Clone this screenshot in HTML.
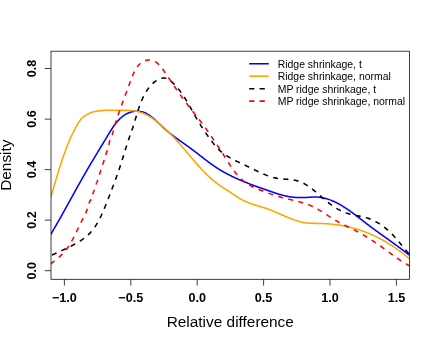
<!DOCTYPE html>
<html><head><meta charset="utf-8"><title>Density plot</title>
<style>html,body{margin:0;padding:0;background:#fff}svg{display:block;will-change:transform}</style>
</head><body>
<svg width="436" height="343" viewBox="0 0 436 343">
<defs><clipPath id="c"><rect x="51.0" y="51.2" width="358.5" height="228.10000000000002"/></clipPath></defs>
<g clip-path="url(#c)" fill="none" stroke-width="1.55" stroke-linejoin="round">
<path d="M43.39,246.13 L43.72,245.62 L44.06,245.11 L44.39,244.59 L44.73,244.07 L45.07,243.54 L45.41,243.01 L45.75,242.48 L46.09,241.94 L46.43,241.39 L46.78,240.85 L47.12,240.29 L47.47,239.74 L47.82,239.18 L48.17,238.61 L48.52,238.04 L48.87,237.47 L49.22,236.90 L49.57,236.32 L49.92,235.73 L50.28,235.15 L50.63,234.56 L50.99,233.96 L51.35,233.36 L51.70,232.76 L52.06,232.16 L52.42,231.55 L52.78,230.94 L53.14,230.33 L53.50,229.71 L53.87,229.09 L54.23,228.47 L54.59,227.84 L54.96,227.21 L55.32,226.58 L55.69,225.95 L56.06,225.31 L56.43,224.67 L56.79,224.03 L57.16,223.39 L57.53,222.74 L57.90,222.09 L58.27,221.44 L58.64,220.79 L59.01,220.14 L59.39,219.48 L59.76,218.82 L60.13,218.16 L60.51,217.50 L60.88,216.83 L61.25,216.17 L61.63,215.50 L62.00,214.83 L62.38,214.16 L62.75,213.49 L63.13,212.82 L63.51,212.14 L63.88,211.47 L64.26,210.79 L64.64,210.11 L65.02,209.43 L65.40,208.75 L65.77,208.07 L66.15,207.39 L66.53,206.70 L66.91,206.02 L67.29,205.34 L67.67,204.65 L68.05,203.96 L68.43,203.28 L68.81,202.59 L69.19,201.91 L69.57,201.22 L69.95,200.53 L70.33,199.84 L70.71,199.16 L71.09,198.47 L71.47,197.78 L71.85,197.09 L72.23,196.41 L72.61,195.72 L72.98,195.03 L73.36,194.34 L73.74,193.66 L74.12,192.97 L74.50,192.29 L74.88,191.60 L75.26,190.92 L75.64,190.24 L76.02,189.55 L76.40,188.87 L76.77,188.19 L77.15,187.51 L77.53,186.83 L77.91,186.16 L78.28,185.48 L78.66,184.80 L79.04,184.13 L79.41,183.46 L79.79,182.79 L80.16,182.12 L80.54,181.45 L80.91,180.78 L81.29,180.12 L81.66,179.46 L82.03,178.79 L82.41,178.14 L82.78,177.48 L83.15,176.82 L83.52,176.17 L83.89,175.52 L84.26,174.87 L84.63,174.22 L85.00,173.58 L85.37,172.94 L85.74,172.30 L86.10,171.66 L86.47,171.02 L86.84,170.39 L87.20,169.76 L87.56,169.14 L87.93,168.51 L88.29,167.89 L88.65,167.27 L89.02,166.66 L89.38,166.04 L89.74,165.43 L90.10,164.82 L90.46,164.21 L90.82,163.60 L91.18,162.99 L91.54,162.39 L91.90,161.78 L92.26,161.18 L92.62,160.58 L92.98,159.98 L93.34,159.38 L93.70,158.78 L94.06,158.18 L94.42,157.58 L94.78,156.98 L95.14,156.38 L95.50,155.78 L95.87,155.18 L96.23,154.58 L96.59,153.99 L96.95,153.39 L97.32,152.78 L97.68,152.18 L98.05,151.58 L98.41,150.98 L98.78,150.37 L99.15,149.77 L99.52,149.16 L99.89,148.55 L100.26,147.94 L100.63,147.33 L101.00,146.72 L101.38,146.10 L101.75,145.48 L102.13,144.86 L102.50,144.24 L102.88,143.62 L103.26,142.99 L103.65,142.36 L104.03,141.72 L104.41,141.09 L104.80,140.45 L105.19,139.81 L105.58,139.16 L105.97,138.51 L106.36,137.86 L106.75,137.20 L107.15,136.54 L107.55,135.88 L107.95,135.21 L108.35,134.54 L108.76,133.87 L109.17,133.20 L109.58,132.53 L109.99,131.86 L110.41,131.18 L110.84,130.51 L111.26,129.84 L111.69,129.18 L112.13,128.51 L112.57,127.85 L113.01,127.20 L113.46,126.55 L113.92,125.90 L114.38,125.26 L114.85,124.63 L115.32,124.00 L115.80,123.39 L116.28,122.78 L116.77,122.18 L117.27,121.59 L117.78,121.01 L118.29,120.44 L118.82,119.88 L119.35,119.33 L119.88,118.80 L120.43,118.28 L120.98,117.77 L121.55,117.28 L122.12,116.80 L122.70,116.34 L123.29,115.90 L123.89,115.47 L124.50,115.06 L125.12,114.67 L125.76,114.29 L126.40,113.94 L127.05,113.61 L127.71,113.29 L128.38,113.00 L129.07,112.73 L129.76,112.48 L130.45,112.25 L131.16,112.04 L131.86,111.85 L132.58,111.69 L133.30,111.55 L134.02,111.44 L134.75,111.34 L135.48,111.28 L136.21,111.23 L136.94,111.22 L137.67,111.22 L138.41,111.26 L139.14,111.31 L139.87,111.40 L140.60,111.51 L141.32,111.65 L142.05,111.82 L142.76,112.01 L143.48,112.23 L144.18,112.48 L144.88,112.76 L145.58,113.07 L146.26,113.40 L146.94,113.76 L147.62,114.14 L148.28,114.55 L148.95,114.97 L149.60,115.41 L150.25,115.87 L150.89,116.34 L151.52,116.83 L152.15,117.32 L152.78,117.83 L153.39,118.34 L154.01,118.87 L154.61,119.40 L155.22,119.93 L155.81,120.47 L156.41,121.02 L157.00,121.57 L157.59,122.12 L158.17,122.68 L158.76,123.24 L159.34,123.79 L159.91,124.35 L160.49,124.91 L161.07,125.46 L161.64,126.01 L162.21,126.56 L162.78,127.10 L163.36,127.63 L163.93,128.16 L164.50,128.68 L165.08,129.20 L165.65,129.71 L166.23,130.21 L166.80,130.70 L167.38,131.19 L167.95,131.68 L168.53,132.15 L169.11,132.63 L169.68,133.09 L170.26,133.55 L170.84,134.01 L171.42,134.46 L172.00,134.91 L172.58,135.36 L173.16,135.80 L173.74,136.24 L174.32,136.67 L174.90,137.10 L175.48,137.53 L176.07,137.96 L176.65,138.38 L177.23,138.80 L177.82,139.22 L178.40,139.64 L178.98,140.05 L179.57,140.47 L180.15,140.88 L180.74,141.29 L181.33,141.71 L181.91,142.12 L182.50,142.53 L183.09,142.95 L183.68,143.36 L184.27,143.77 L184.86,144.19 L185.45,144.60 L186.04,145.02 L186.63,145.44 L187.22,145.86 L187.81,146.28 L188.40,146.71 L188.99,147.13 L189.59,147.56 L190.18,148.00 L190.77,148.43 L191.37,148.87 L191.96,149.32 L192.56,149.76 L193.15,150.21 L193.75,150.67 L194.35,151.12 L194.94,151.58 L195.54,152.04 L196.14,152.50 L196.74,152.96 L197.34,153.43 L197.94,153.90 L198.54,154.36 L199.14,154.83 L199.75,155.30 L200.35,155.77 L200.95,156.24 L201.56,156.71 L202.17,157.19 L202.77,157.66 L203.38,158.13 L203.99,158.60 L204.60,159.07 L205.21,159.53 L205.82,160.00 L206.43,160.47 L207.05,160.93 L207.66,161.39 L208.28,161.85 L208.89,162.31 L209.51,162.77 L210.13,163.22 L210.75,163.67 L211.37,164.12 L211.99,164.56 L212.62,165.00 L213.24,165.44 L213.87,165.87 L214.50,166.30 L215.13,166.73 L215.76,167.15 L216.39,167.57 L217.02,167.98 L217.66,168.39 L218.29,168.79 L218.93,169.19 L219.57,169.58 L220.21,169.97 L220.85,170.36 L221.49,170.74 L222.13,171.11 L222.78,171.49 L223.42,171.86 L224.07,172.22 L224.72,172.58 L225.37,172.94 L226.02,173.30 L226.68,173.65 L227.33,173.99 L227.99,174.34 L228.64,174.68 L229.30,175.01 L229.96,175.35 L230.62,175.68 L231.28,176.00 L231.94,176.33 L232.61,176.65 L233.27,176.97 L233.94,177.28 L234.61,177.59 L235.28,177.90 L235.95,178.21 L236.62,178.52 L237.29,178.82 L237.96,179.12 L238.64,179.41 L239.32,179.71 L239.99,180.00 L240.67,180.29 L241.35,180.58 L242.03,180.86 L242.71,181.15 L243.40,181.43 L244.08,181.71 L244.76,181.99 L245.45,182.26 L246.14,182.54 L246.83,182.81 L247.52,183.08 L248.21,183.35 L248.90,183.62 L249.59,183.89 L250.29,184.15 L250.98,184.42 L251.68,184.68 L252.37,184.94 L253.07,185.21 L253.77,185.47 L254.47,185.73 L255.17,185.99 L255.88,186.24 L256.58,186.50 L257.28,186.76 L257.99,187.01 L258.70,187.27 L259.40,187.52 L260.11,187.78 L260.82,188.03 L261.53,188.29 L262.24,188.54 L262.96,188.80 L263.67,189.05 L264.38,189.30 L265.10,189.56 L265.81,189.81 L266.53,190.07 L267.25,190.32 L267.97,190.58 L268.69,190.83 L269.41,191.09 L270.13,191.34 L270.85,191.59 L271.58,191.84 L272.30,192.09 L273.03,192.33 L273.75,192.57 L274.48,192.81 L275.21,193.05 L275.93,193.29 L276.66,193.52 L277.39,193.74 L278.12,193.97 L278.85,194.19 L279.58,194.40 L280.32,194.61 L281.05,194.81 L281.78,195.01 L282.52,195.21 L283.25,195.40 L283.99,195.58 L284.72,195.75 L285.46,195.92 L286.20,196.08 L286.93,196.24 L287.67,196.38 L288.41,196.52 L289.15,196.65 L289.89,196.77 L290.63,196.89 L291.37,196.99 L292.11,197.09 L292.85,197.18 L293.60,197.25 L294.34,197.32 L295.08,197.39 L295.82,197.44 L296.57,197.49 L297.31,197.52 L298.06,197.56 L298.81,197.58 L299.55,197.59 L300.30,197.60 L301.05,197.61 L301.80,197.60 L302.55,197.59 L303.31,197.57 L304.06,197.55 L304.82,197.52 L305.57,197.48 L306.33,197.44 L307.09,197.40 L307.84,197.35 L308.60,197.30 L309.36,197.24 L310.12,197.19 L310.88,197.15 L311.64,197.10 L312.40,197.06 L313.16,197.03 L313.91,197.01 L314.67,197.00 L315.42,197.00 L316.17,197.02 L316.92,197.05 L317.67,197.10 L318.41,197.16 L319.15,197.23 L319.89,197.32 L320.63,197.42 L321.36,197.54 L322.09,197.66 L322.82,197.81 L323.55,197.96 L324.27,198.13 L324.99,198.30 L325.71,198.49 L326.43,198.70 L327.14,198.91 L327.85,199.13 L328.56,199.36 L329.26,199.61 L329.96,199.86 L330.66,200.13 L331.36,200.40 L332.05,200.68 L332.74,200.97 L333.42,201.27 L334.11,201.58 L334.79,201.89 L335.46,202.22 L336.14,202.55 L336.81,202.88 L337.48,203.23 L338.14,203.58 L338.80,203.93 L339.46,204.30 L340.11,204.67 L340.76,205.04 L341.41,205.42 L342.05,205.80 L342.69,206.19 L343.33,206.58 L343.97,206.98 L344.60,207.38 L345.22,207.78 L345.85,208.19 L346.47,208.60 L347.09,209.02 L347.71,209.44 L348.33,209.86 L348.94,210.29 L349.55,210.72 L350.16,211.15 L350.77,211.59 L351.37,212.03 L351.98,212.47 L352.58,212.91 L353.18,213.35 L353.78,213.80 L354.38,214.25 L354.97,214.70 L355.57,215.15 L356.17,215.61 L356.76,216.06 L357.35,216.52 L357.95,216.97 L358.54,217.43 L359.13,217.89 L359.72,218.35 L360.31,218.81 L360.90,219.27 L361.50,219.73 L362.09,220.19 L362.68,220.65 L363.27,221.11 L363.86,221.57 L364.46,222.02 L365.05,222.48 L365.64,222.94 L366.24,223.40 L366.84,223.85 L367.43,224.30 L368.03,224.76 L368.63,225.21 L369.23,225.66 L369.83,226.11 L370.43,226.56 L371.03,227.01 L371.64,227.45 L372.24,227.90 L372.84,228.35 L373.45,228.79 L374.05,229.23 L374.66,229.68 L375.26,230.12 L375.87,230.56 L376.48,231.01 L377.09,231.45 L377.69,231.89 L378.30,232.33 L378.91,232.77 L379.52,233.21 L380.13,233.65 L380.74,234.09 L381.35,234.52 L381.96,234.96 L382.57,235.40 L383.18,235.84 L383.79,236.28 L384.40,236.71 L385.01,237.15 L385.62,237.59 L386.23,238.03 L386.84,238.46 L387.45,238.90 L388.06,239.34 L388.67,239.78 L389.28,240.22 L389.89,240.65 L390.50,241.09 L391.11,241.53 L391.72,241.97 L392.33,242.41 L392.94,242.85 L393.54,243.29 L394.15,243.73 L394.76,244.17 L395.37,244.61 L395.97,245.05 L396.58,245.50 L397.18,245.94 L397.79,246.38 L398.39,246.83 L399.00,247.27 L399.60,247.72 L400.20,248.16 L400.80,248.61 L401.40,249.06 L402.00,249.51 L402.60,249.96 L403.20,250.41 L403.80,250.86 L404.40,251.31 L404.99,251.76 L405.59,252.22 L406.18,252.67 L406.78,253.13 L407.37,253.59 L407.96,254.05 L408.55,254.51 L409.14,254.97 L409.73,255.43 L410.31,255.90 L410.90,256.36 L411.48,256.83 L412.06,257.30 L412.65,257.77 L413.23,258.24 L413.81,258.71 L414.38,259.19 L414.96,259.66 L415.53,260.14 L416.11,260.62 L416.68,261.10" stroke="#0000ff"/>
<path d="M46.80,209.72 L47.01,209.08 L47.22,208.44 L47.42,207.79 L47.63,207.14 L47.84,206.49 L48.04,205.83 L48.25,205.17 L48.46,204.50 L48.67,203.83 L48.88,203.16 L49.08,202.48 L49.29,201.81 L49.50,201.12 L49.71,200.44 L49.92,199.75 L50.13,199.06 L50.34,198.37 L50.55,197.67 L50.77,196.97 L50.98,196.27 L51.19,195.56 L51.40,194.86 L51.61,194.15 L51.83,193.44 L52.04,192.72 L52.25,192.01 L52.47,191.29 L52.68,190.57 L52.90,189.85 L53.11,189.13 L53.33,188.41 L53.55,187.68 L53.76,186.95 L53.98,186.22 L54.20,185.50 L54.42,184.76 L54.63,184.03 L54.85,183.30 L55.07,182.57 L55.29,181.83 L55.51,181.10 L55.74,180.36 L55.96,179.63 L56.18,178.89 L56.40,178.15 L56.63,177.42 L56.85,176.68 L57.08,175.94 L57.30,175.20 L57.53,174.47 L57.75,173.73 L57.98,172.99 L58.21,172.26 L58.44,171.52 L58.66,170.79 L58.89,170.05 L59.12,169.32 L59.35,168.58 L59.59,167.85 L59.82,167.12 L60.05,166.39 L60.28,165.66 L60.52,164.93 L60.75,164.21 L60.99,163.48 L61.23,162.76 L61.46,162.04 L61.70,161.32 L61.94,160.60 L62.18,159.88 L62.42,159.17 L62.66,158.45 L62.90,157.74 L63.14,157.03 L63.39,156.33 L63.63,155.63 L63.88,154.92 L64.12,154.23 L64.37,153.53 L64.61,152.84 L64.86,152.15 L65.11,151.46 L65.36,150.78 L65.61,150.09 L65.86,149.42 L66.12,148.74 L66.37,148.07 L66.63,147.40 L66.88,146.73 L67.14,146.06 L67.40,145.40 L67.67,144.73 L67.93,144.07 L68.20,143.41 L68.47,142.75 L68.75,142.10 L69.02,141.44 L69.30,140.78 L69.58,140.13 L69.87,139.47 L70.16,138.82 L70.45,138.16 L70.75,137.51 L71.05,136.85 L71.35,136.19 L71.66,135.54 L71.97,134.88 L72.29,134.22 L72.61,133.56 L72.94,132.90 L73.27,132.23 L73.61,131.57 L73.95,130.90 L74.30,130.23 L74.65,129.56 L75.01,128.88 L75.37,128.21 L75.74,127.53 L76.12,126.85 L76.51,126.16 L76.90,125.47 L77.29,124.78 L77.70,124.08 L78.11,123.38 L78.52,122.68 L78.95,121.98 L79.39,121.30 L79.84,120.62 L80.30,119.97 L80.78,119.35 L81.27,118.77 L81.78,118.22 L82.31,117.72 L82.86,117.26 L83.43,116.83 L84.02,116.43 L84.62,116.03 L85.24,115.64 L85.87,115.24 L86.52,114.85 L87.18,114.47 L87.86,114.09 L88.54,113.73 L89.24,113.40 L89.94,113.08 L90.65,112.80 L91.36,112.53 L92.09,112.29 L92.81,112.06 L93.54,111.86 L94.28,111.68 L95.02,111.51 L95.76,111.35 L96.51,111.22 L97.25,111.09 L98.00,110.98 L98.75,110.88 L99.49,110.79 L100.24,110.71 L100.98,110.63 L101.73,110.57 L102.47,110.51 L103.22,110.47 L103.96,110.43 L104.70,110.39 L105.45,110.36 L106.19,110.34 L106.93,110.32 L107.68,110.31 L108.42,110.30 L109.16,110.30 L109.91,110.30 L110.65,110.30 L111.39,110.30 L112.14,110.31 L112.88,110.32 L113.63,110.33 L114.37,110.34 L115.12,110.35 L115.86,110.36 L116.61,110.36 L117.36,110.37 L118.11,110.38 L118.86,110.38 L119.61,110.38 L120.36,110.38 L121.11,110.37 L121.86,110.37 L122.61,110.36 L123.36,110.36 L124.12,110.35 L124.87,110.35 L125.62,110.35 L126.37,110.36 L127.12,110.37 L127.86,110.39 L128.61,110.41 L129.35,110.44 L130.10,110.48 L130.84,110.53 L131.57,110.59 L132.31,110.66 L133.04,110.75 L133.77,110.84 L134.50,110.95 L135.22,111.07 L135.94,111.20 L136.66,111.35 L137.38,111.51 L138.09,111.68 L138.80,111.87 L139.50,112.06 L140.20,112.27 L140.90,112.50 L141.59,112.73 L142.28,112.98 L142.97,113.24 L143.65,113.51 L144.33,113.79 L145.01,114.09 L145.68,114.40 L146.35,114.72 L147.01,115.05 L147.67,115.40 L148.33,115.76 L148.98,116.13 L149.62,116.51 L150.27,116.90 L150.90,117.31 L151.54,117.73 L152.17,118.16 L152.79,118.60 L153.42,119.05 L154.03,119.51 L154.65,119.98 L155.26,120.45 L155.87,120.93 L156.47,121.41 L157.07,121.89 L157.67,122.37 L158.27,122.86 L158.86,123.35 L159.45,123.84 L160.03,124.33 L160.61,124.82 L161.19,125.32 L161.77,125.82 L162.34,126.32 L162.91,126.82 L163.48,127.32 L164.05,127.83 L164.61,128.33 L165.17,128.84 L165.72,129.36 L166.28,129.87 L166.83,130.39 L167.38,130.91 L167.92,131.43 L168.47,131.95 L169.01,132.48 L169.55,133.01 L170.08,133.54 L170.62,134.07 L171.15,134.61 L171.68,135.15 L172.20,135.69 L172.73,136.24 L173.25,136.79 L173.77,137.34 L174.29,137.89 L174.81,138.44 L175.32,139.00 L175.83,139.56 L176.35,140.12 L176.85,140.68 L177.36,141.24 L177.87,141.81 L178.37,142.37 L178.88,142.94 L179.38,143.51 L179.88,144.08 L180.38,144.65 L180.88,145.22 L181.37,145.80 L181.87,146.37 L182.36,146.95 L182.86,147.52 L183.35,148.10 L183.84,148.68 L184.33,149.26 L184.82,149.84 L185.31,150.41 L185.80,150.99 L186.29,151.57 L186.78,152.15 L187.27,152.73 L187.76,153.31 L188.25,153.89 L188.73,154.47 L189.22,155.05 L189.71,155.63 L190.20,156.20 L190.68,156.78 L191.17,157.36 L191.66,157.93 L192.15,158.51 L192.63,159.08 L193.12,159.66 L193.61,160.23 L194.10,160.80 L194.59,161.37 L195.08,161.94 L195.57,162.50 L196.07,163.07 L196.56,163.63 L197.05,164.19 L197.55,164.75 L198.04,165.31 L198.54,165.87 L199.04,166.42 L199.54,166.97 L200.04,167.52 L200.54,168.07 L201.04,168.62 L201.55,169.16 L202.05,169.70 L202.56,170.24 L203.07,170.77 L203.58,171.30 L204.10,171.83 L204.61,172.36 L205.13,172.88 L205.64,173.40 L206.17,173.92 L206.69,174.43 L207.21,174.94 L207.74,175.45 L208.27,175.95 L208.80,176.45 L209.33,176.95 L209.87,177.44 L210.41,177.93 L210.95,178.41 L211.49,178.89 L212.04,179.37 L212.59,179.84 L213.14,180.31 L213.70,180.77 L214.25,181.23 L214.82,181.68 L215.38,182.13 L215.95,182.58 L216.52,183.02 L217.09,183.45 L217.67,183.88 L218.25,184.31 L218.83,184.73 L219.42,185.15 L220.01,185.56 L220.60,185.97 L221.20,186.38 L221.80,186.79 L222.40,187.19 L223.01,187.60 L223.62,188.00 L224.24,188.40 L224.85,188.81 L225.47,189.21 L226.10,189.61 L226.72,190.02 L227.36,190.43 L227.99,190.84 L228.63,191.25 L229.27,191.66 L229.91,192.08 L230.56,192.50 L231.21,192.93 L231.86,193.36 L232.52,193.79 L233.18,194.23 L233.85,194.67 L234.51,195.12 L235.18,195.56 L235.86,196.01 L236.53,196.45 L237.21,196.88 L237.89,197.32 L238.57,197.74 L239.25,198.17 L239.94,198.58 L240.62,198.98 L241.31,199.37 L242.00,199.75 L242.69,200.12 L243.38,200.47 L244.08,200.82 L244.77,201.15 L245.46,201.47 L246.16,201.78 L246.85,202.08 L247.55,202.37 L248.25,202.65 L248.94,202.92 L249.64,203.18 L250.34,203.44 L251.04,203.69 L251.74,203.94 L252.44,204.18 L253.14,204.41 L253.84,204.64 L254.53,204.86 L255.23,205.08 L255.93,205.30 L256.63,205.51 L257.33,205.73 L258.03,205.94 L258.73,206.15 L259.43,206.36 L260.12,206.57 L260.82,206.78 L261.52,206.99 L262.21,207.20 L262.91,207.41 L263.60,207.63 L264.30,207.85 L264.99,208.08 L265.68,208.30 L266.37,208.54 L267.06,208.77 L267.75,209.02 L268.44,209.27 L269.12,209.52 L269.81,209.78 L270.50,210.04 L271.18,210.31 L271.86,210.59 L272.55,210.86 L273.23,211.14 L273.92,211.42 L274.60,211.71 L275.28,212.00 L275.97,212.29 L276.65,212.58 L277.33,212.88 L278.02,213.17 L278.70,213.47 L279.39,213.77 L280.08,214.07 L280.77,214.37 L281.46,214.68 L282.15,214.98 L282.84,215.28 L283.53,215.58 L284.22,215.88 L284.92,216.18 L285.62,216.48 L286.32,216.77 L287.02,217.07 L287.72,217.36 L288.43,217.65 L289.14,217.94 L289.85,218.22 L290.56,218.51 L291.28,218.78 L292.00,219.06 L292.72,219.33 L293.44,219.60 L294.17,219.86 L294.90,220.11 L295.63,220.36 L296.36,220.61 L297.10,220.84 L297.83,221.07 L298.57,221.29 L299.31,221.50 L300.05,221.71 L300.79,221.90 L301.54,222.08 L302.28,222.25 L303.03,222.41 L303.77,222.56 L304.52,222.70 L305.26,222.82 L306.01,222.93 L306.75,223.02 L307.50,223.10 L308.25,223.17 L308.99,223.22 L309.74,223.27 L310.48,223.30 L311.23,223.32 L311.97,223.34 L312.71,223.35 L313.46,223.36 L314.20,223.36 L314.95,223.37 L315.69,223.37 L316.44,223.37 L317.18,223.38 L317.93,223.39 L318.68,223.40 L319.42,223.42 L320.17,223.44 L320.92,223.46 L321.66,223.49 L322.41,223.52 L323.15,223.55 L323.90,223.59 L324.65,223.63 L325.40,223.67 L326.14,223.72 L326.89,223.77 L327.63,223.83 L328.38,223.89 L329.13,223.95 L329.87,224.02 L330.62,224.09 L331.36,224.16 L332.11,224.24 L332.86,224.32 L333.60,224.40 L334.34,224.49 L335.09,224.59 L335.83,224.68 L336.58,224.78 L337.32,224.89 L338.06,225.00 L338.80,225.11 L339.54,225.22 L340.28,225.34 L341.03,225.47 L341.76,225.60 L342.50,225.73 L343.24,225.86 L343.98,226.00 L344.72,226.15 L345.45,226.30 L346.19,226.45 L346.92,226.60 L347.66,226.76 L348.39,226.93 L349.12,227.10 L349.85,227.27 L350.58,227.44 L351.31,227.62 L352.04,227.81 L352.77,228.00 L353.50,228.19 L354.22,228.39 L354.95,228.59 L355.67,228.80 L356.39,229.01 L357.11,229.22 L357.83,229.44 L358.55,229.66 L359.27,229.89 L359.99,230.12 L360.70,230.36 L361.41,230.60 L362.13,230.84 L362.84,231.09 L363.55,231.35 L364.25,231.60 L364.96,231.87 L365.67,232.13 L366.37,232.41 L367.07,232.68 L367.77,232.96 L368.47,233.25 L369.17,233.54 L369.87,233.83 L370.56,234.13 L371.25,234.43 L371.94,234.74 L372.63,235.05 L373.32,235.36 L374.01,235.68 L374.69,236.00 L375.37,236.33 L376.05,236.66 L376.73,236.99 L377.41,237.33 L378.08,237.67 L378.76,238.02 L379.43,238.37 L380.10,238.72 L380.77,239.08 L381.43,239.44 L382.09,239.80 L382.76,240.16 L383.41,240.53 L384.07,240.91 L384.73,241.28 L385.38,241.66 L386.03,242.04 L386.68,242.43 L387.33,242.82 L387.97,243.21 L388.61,243.60 L389.25,244.00 L389.89,244.40 L390.53,244.80 L391.16,245.20 L391.79,245.61 L392.42,246.02 L393.05,246.43 L393.67,246.84 L394.29,247.26 L394.91,247.68 L395.53,248.10 L396.14,248.52 L396.75,248.95 L397.36,249.38 L397.97,249.81 L398.57,250.24 L399.17,250.67 L399.77,251.11 L400.37,251.55 L400.96,251.99 L401.55,252.43 L402.14,252.87 L402.73,253.31 L403.31,253.76 L403.89,254.21 L404.47,254.65 L405.04,255.10 L405.61,255.56 L406.18,256.01 L406.75,256.46 L407.31,256.92 L407.87,257.37 L408.43,257.83 L408.98,258.29 L409.53,258.75 L410.08,259.21 L410.63,259.67 L411.17,260.13 L411.71,260.59 L412.25,261.06 L412.78,261.52 L413.31,261.99 L413.84,262.45 L414.36,262.92 L414.88,263.38 L415.40,263.85 L415.91,264.32 L416.42,264.78 L416.93,265.25 L417.44,265.72" stroke="#ffa500"/>
<path d="M41.91,260.64 L42.49,260.28 L43.07,259.92 L43.66,259.56 L44.25,259.21 L44.85,258.86 L45.46,258.52 L46.08,258.17 L46.69,257.83 L47.32,257.50 L47.95,257.16 L48.58,256.83 L49.22,256.50 L49.87,256.17 L50.52,255.85 L51.17,255.52 L51.83,255.20 L52.49,254.88 L53.15,254.56 L53.82,254.24 L54.49,253.93 L55.16,253.61 L55.84,253.29 L56.52,252.98 L57.20,252.66 L57.88,252.35 L58.56,252.03 L59.25,251.72 L59.94,251.40 L60.63,251.09 L61.32,250.77 L62.01,250.46 L62.70,250.14 L63.39,249.82 L64.08,249.50 L64.77,249.18 L65.46,248.85 L66.15,248.53 L66.84,248.20 L67.52,247.87 L68.21,247.54 L68.89,247.21 L69.58,246.87 L70.26,246.54 L70.94,246.19 L71.61,245.85 L72.29,245.50 L72.96,245.15 L73.63,244.80 L74.29,244.44 L74.95,244.08 L75.61,243.71 L76.26,243.34 L76.91,242.97 L77.56,242.59 L78.20,242.21 L78.84,241.82 L79.47,241.43 L80.10,241.03 L80.72,240.63 L81.33,240.22 L81.94,239.80 L82.54,239.38 L83.14,238.96 L83.73,238.53 L84.31,238.09 L84.89,237.64 L85.46,237.19 L86.02,236.74 L86.58,236.27 L87.13,235.80 L87.66,235.32 L88.20,234.84 L88.72,234.34 L89.23,233.84 L89.74,233.33 L90.23,232.82 L90.72,232.29 L91.20,231.76 L91.67,231.22 L92.13,230.67 L92.58,230.12 L93.02,229.55 L93.46,228.98 L93.89,228.41 L94.31,227.82 L94.73,227.23 L95.13,226.63 L95.54,226.02 L95.93,225.41 L96.32,224.79 L96.70,224.17 L97.08,223.53 L97.45,222.89 L97.82,222.25 L98.18,221.60 L98.54,220.94 L98.90,220.27 L99.25,219.60 L99.59,218.93 L99.93,218.24 L100.27,217.56 L100.60,216.86 L100.94,216.17 L101.27,215.46 L101.59,214.75 L101.92,214.04 L102.24,213.32 L102.56,212.59 L102.88,211.86 L103.19,211.13 L103.51,210.40 L103.82,209.66 L104.13,208.92 L104.44,208.17 L104.74,207.43 L105.05,206.68 L105.35,205.94 L105.65,205.19 L105.95,204.44 L106.25,203.70 L106.54,202.95 L106.84,202.21 L107.13,201.47 L107.42,200.73 L107.71,200.00 L107.99,199.26 L108.28,198.54 L108.56,197.81 L108.84,197.09 L109.12,196.37 L109.40,195.66 L109.68,194.95 L109.95,194.25 L110.23,193.54 L110.50,192.84 L110.77,192.15 L111.04,191.45 L111.30,190.76 L111.57,190.07 L111.83,189.39 L112.10,188.70 L112.36,188.02 L112.62,187.34 L112.88,186.67 L113.14,185.99 L113.39,185.31 L113.65,184.64 L113.90,183.97 L114.15,183.30 L114.40,182.63 L114.65,181.96 L114.90,181.29 L115.15,180.62 L115.39,179.95 L115.64,179.29 L115.88,178.62 L116.12,177.95 L116.37,177.28 L116.61,176.62 L116.85,175.95 L117.08,175.28 L117.32,174.61 L117.56,173.94 L117.79,173.27 L118.03,172.60 L118.26,171.92 L118.49,171.25 L118.72,170.57 L118.96,169.89 L119.19,169.21 L119.41,168.53 L119.64,167.85 L119.87,167.16 L120.10,166.47 L120.32,165.78 L120.55,165.08 L120.77,164.39 L121.00,163.69 L121.22,162.99 L121.44,162.28 L121.66,161.58 L121.89,160.87 L122.11,160.16 L122.33,159.45 L122.55,158.73 L122.77,158.02 L123.00,157.30 L123.22,156.58 L123.44,155.86 L123.66,155.14 L123.88,154.41 L124.11,153.69 L124.33,152.96 L124.55,152.24 L124.78,151.51 L125.00,150.78 L125.23,150.05 L125.46,149.32 L125.69,148.59 L125.91,147.86 L126.14,147.13 L126.38,146.40 L126.61,145.67 L126.84,144.94 L127.08,144.21 L127.31,143.48 L127.55,142.75 L127.79,142.02 L128.03,141.29 L128.27,140.56 L128.52,139.84 L128.76,139.11 L129.01,138.39 L129.26,137.67 L129.51,136.96 L129.76,136.24 L130.02,135.53 L130.27,134.81 L130.53,134.10 L130.78,133.39 L131.04,132.68 L131.29,131.97 L131.54,131.25 L131.79,130.54 L132.04,129.82 L132.29,129.10 L132.53,128.38 L132.77,127.65 L133.01,126.92 L133.24,126.19 L133.48,125.45 L133.71,124.71 L133.94,123.97 L134.17,123.23 L134.40,122.49 L134.62,121.74 L134.85,121.00 L135.07,120.25 L135.30,119.50 L135.52,118.75 L135.74,118.00 L135.97,117.26 L136.20,116.51 L136.42,115.76 L136.65,115.01 L136.88,114.26 L137.11,113.51 L137.34,112.76 L137.57,112.02 L137.81,111.27 L138.04,110.53 L138.28,109.79 L138.52,109.05 L138.77,108.31 L139.02,107.58 L139.27,106.84 L139.53,106.11 L139.79,105.39 L140.05,104.66 L140.32,103.94 L140.59,103.23 L140.86,102.51 L141.15,101.80 L141.43,101.10 L141.72,100.40 L142.02,99.70 L142.33,99.01 L142.63,98.32 L142.95,97.64 L143.27,96.96 L143.60,96.29 L143.93,95.63 L144.28,94.97 L144.63,94.32 L144.98,93.67 L145.35,93.03 L145.72,92.40 L146.10,91.77 L146.49,91.15 L146.89,90.54 L147.29,89.93 L147.71,89.34 L148.13,88.75 L148.57,88.17 L149.01,87.60 L149.47,87.03 L149.93,86.48 L150.40,85.93 L150.89,85.40 L151.38,84.87 L151.89,84.35 L152.41,83.84 L152.94,83.34 L153.48,82.86 L154.03,82.38 L154.59,81.91 L155.16,81.47 L155.75,81.04 L156.34,80.63 L156.94,80.24 L157.54,79.87 L158.15,79.54 L158.77,79.23 L159.40,78.95 L160.02,78.70 L160.66,78.49 L161.29,78.32 L161.93,78.18 L162.57,78.09 L163.21,78.04 L163.85,78.04 L164.49,78.08 L165.13,78.18 L165.77,78.33 L166.40,78.53 L167.03,78.77 L167.66,79.07 L168.29,79.40 L168.91,79.77 L169.53,80.18 L170.14,80.62 L170.74,81.08 L171.34,81.57 L171.93,82.08 L172.52,82.61 L173.10,83.16 L173.67,83.71 L174.23,84.27 L174.78,84.84 L175.32,85.42 L175.86,85.99 L176.38,86.58 L176.90,87.16 L177.41,87.75 L177.91,88.35 L178.40,88.95 L178.89,89.55 L179.37,90.16 L179.84,90.77 L180.31,91.38 L180.77,92.00 L181.22,92.62 L181.67,93.25 L182.11,93.87 L182.55,94.50 L182.98,95.14 L183.40,95.77 L183.82,96.41 L184.24,97.05 L184.65,97.69 L185.05,98.33 L185.46,98.98 L185.85,99.62 L186.25,100.27 L186.64,100.92 L187.03,101.57 L187.41,102.23 L187.79,102.88 L188.17,103.53 L188.54,104.19 L188.92,104.84 L189.29,105.50 L189.66,106.16 L190.03,106.81 L190.39,107.47 L190.76,108.13 L191.12,108.78 L191.49,109.44 L191.85,110.09 L192.21,110.75 L192.57,111.40 L192.94,112.06 L193.30,112.71 L193.66,113.36 L194.03,114.01 L194.39,114.66 L194.76,115.31 L195.12,115.95 L195.49,116.59 L195.86,117.24 L196.23,117.88 L196.61,118.51 L196.98,119.15 L197.36,119.79 L197.73,120.42 L198.11,121.05 L198.50,121.68 L198.88,122.31 L199.26,122.94 L199.65,123.57 L200.04,124.19 L200.43,124.82 L200.82,125.44 L201.22,126.07 L201.62,126.69 L202.02,127.31 L202.42,127.93 L202.82,128.55 L203.23,129.17 L203.63,129.79 L204.05,130.40 L204.46,131.02 L204.87,131.64 L205.29,132.25 L205.71,132.87 L206.14,133.48 L206.56,134.10 L206.99,134.71 L207.42,135.33 L207.86,135.94 L208.29,136.56 L208.73,137.17 L209.18,137.78 L209.62,138.40 L210.07,139.01 L210.52,139.63 L210.98,140.24 L211.43,140.85 L211.90,141.47 L212.36,142.08 L212.83,142.69 L213.30,143.30 L213.78,143.91 L214.26,144.51 L214.74,145.11 L215.23,145.70 L215.73,146.28 L216.23,146.86 L216.74,147.43 L217.25,147.99 L217.77,148.54 L218.30,149.08 L218.83,149.61 L219.37,150.13 L219.92,150.64 L220.47,151.13 L221.03,151.62 L221.60,152.09 L222.17,152.55 L222.75,153.00 L223.34,153.45 L223.93,153.88 L224.52,154.31 L225.13,154.72 L225.73,155.13 L226.35,155.54 L226.96,155.93 L227.58,156.32 L228.21,156.70 L228.84,157.08 L229.48,157.45 L230.12,157.82 L230.76,158.18 L231.41,158.53 L232.06,158.89 L232.71,159.24 L233.37,159.58 L234.03,159.92 L234.69,160.26 L235.35,160.60 L236.02,160.93 L236.69,161.26 L237.36,161.59 L238.04,161.92 L238.71,162.25 L239.39,162.57 L240.07,162.89 L240.75,163.22 L241.44,163.54 L242.12,163.86 L242.80,164.18 L243.49,164.50 L244.17,164.82 L244.86,165.14 L245.55,165.47 L246.23,165.79 L246.92,166.12 L247.60,166.44 L248.29,166.77 L248.97,167.10 L249.66,167.43 L250.34,167.77 L251.03,168.10 L251.71,168.44 L252.39,168.78 L253.08,169.12 L253.76,169.46 L254.44,169.79 L255.12,170.13 L255.81,170.47 L256.49,170.80 L257.17,171.13 L257.86,171.46 L258.54,171.79 L259.23,172.12 L259.91,172.44 L260.60,172.76 L261.29,173.07 L261.98,173.38 L262.67,173.68 L263.36,173.98 L264.05,174.28 L264.75,174.57 L265.44,174.85 L266.14,175.13 L266.84,175.40 L267.54,175.66 L268.24,175.92 L268.94,176.17 L269.65,176.40 L270.36,176.64 L271.07,176.86 L271.78,177.07 L272.50,177.27 L273.22,177.47 L273.94,177.65 L274.66,177.82 L275.38,177.98 L276.11,178.13 L276.84,178.27 L277.58,178.40 L278.32,178.51 L279.06,178.61 L279.80,178.71 L280.54,178.79 L281.29,178.87 L282.04,178.94 L282.79,179.00 L283.54,179.06 L284.29,179.11 L285.04,179.17 L285.80,179.22 L286.55,179.27 L287.30,179.33 L288.05,179.39 L288.80,179.45 L289.55,179.51 L290.30,179.58 L291.04,179.66 L291.78,179.75 L292.52,179.85 L293.26,179.95 L293.99,180.07 L294.72,180.21 L295.45,180.35 L296.17,180.51 L296.89,180.69 L297.61,180.88 L298.31,181.10 L299.02,181.33 L299.72,181.58 L300.41,181.85 L301.10,182.14 L301.78,182.44 L302.46,182.76 L303.13,183.10 L303.80,183.44 L304.46,183.80 L305.12,184.18 L305.77,184.56 L306.42,184.96 L307.06,185.37 L307.69,185.78 L308.33,186.21 L308.95,186.64 L309.57,187.08 L310.19,187.53 L310.80,187.98 L311.41,188.44 L312.01,188.90 L312.60,189.37 L313.19,189.84 L313.78,190.31 L314.36,190.78 L314.94,191.26 L315.52,191.74 L316.09,192.22 L316.66,192.70 L317.23,193.19 L317.80,193.67 L318.36,194.16 L318.92,194.65 L319.49,195.14 L320.05,195.62 L320.61,196.11 L321.17,196.60 L321.73,197.09 L322.30,197.58 L322.86,198.07 L323.43,198.56 L323.99,199.04 L324.56,199.53 L325.13,200.01 L325.71,200.49 L326.29,200.97 L326.87,201.45 L327.46,201.93 L328.05,202.40 L328.64,202.87 L329.24,203.33 L329.85,203.80 L330.46,204.26 L331.08,204.71 L331.70,205.16 L332.33,205.61 L332.96,206.05 L333.60,206.49 L334.24,206.91 L334.89,207.34 L335.54,207.75 L336.20,208.16 L336.86,208.56 L337.52,208.95 L338.19,209.34 L338.86,209.71 L339.54,210.08 L340.22,210.43 L340.91,210.78 L341.60,211.11 L342.29,211.43 L342.98,211.74 L343.68,212.04 L344.38,212.33 L345.09,212.60 L345.80,212.86 L346.51,213.11 L347.22,213.34 L347.93,213.56 L348.65,213.77 L349.37,213.97 L350.09,214.16 L350.81,214.34 L351.53,214.51 L352.26,214.68 L352.98,214.83 L353.71,214.99 L354.44,215.14 L355.16,215.28 L355.89,215.42 L356.62,215.57 L357.35,215.71 L358.07,215.85 L358.80,215.99 L359.53,216.13 L360.25,216.28 L360.97,216.43 L361.70,216.58 L362.42,216.74 L363.14,216.91 L363.85,217.08 L364.57,217.27 L365.28,217.46 L365.99,217.66 L366.70,217.87 L367.40,218.09 L368.11,218.33 L368.81,218.57 L369.50,218.83 L370.19,219.09 L370.89,219.37 L371.57,219.66 L372.26,219.95 L372.94,220.26 L373.61,220.58 L374.29,220.90 L374.96,221.24 L375.62,221.59 L376.29,221.94 L376.95,222.31 L377.60,222.68 L378.25,223.06 L378.90,223.45 L379.55,223.85 L380.19,224.26 L380.82,224.68 L381.45,225.10 L382.08,225.54 L382.70,225.98 L383.32,226.43 L383.93,226.89 L384.54,227.35 L385.15,227.83 L385.75,228.31 L386.34,228.79 L386.93,229.29 L387.52,229.79 L388.10,230.30 L388.68,230.82 L389.25,231.34 L389.81,231.87 L390.37,232.40 L390.93,232.95 L391.48,233.49 L392.02,234.05 L392.56,234.61 L393.09,235.17 L393.62,235.74 L394.14,236.32 L394.66,236.90 L395.18,237.48 L395.69,238.06 L396.20,238.65 L396.70,239.24 L397.20,239.83 L397.69,240.42 L398.19,241.01 L398.68,241.60 L399.16,242.19 L399.65,242.78 L400.13,243.37 L400.61,243.96 L401.09,244.54 L401.57,245.12 L402.04,245.70 L402.51,246.27 L402.99,246.84 L403.46,247.41 L403.93,247.97 L404.40,248.52 L404.87,249.07 L405.34,249.61 L405.80,250.15 L406.27,250.67 L406.74,251.19 L407.21,251.70 L407.68,252.20 L408.16,252.69 L408.63,253.18 L409.10,253.65 L409.58,254.11 L410.06,254.55 L410.54,254.99 L411.02,255.41 L411.50,255.83 L411.99,256.22 L412.48,256.61 L412.97,256.98 L413.46,257.33 L413.96,257.67 L414.47,258.00 L414.97,258.31 L415.48,258.60 L415.99,258.87 L416.51,259.13" stroke="#000" stroke-dasharray="5.0 5.370" stroke-dashoffset="9.26"/>
<path d="M40.63,272.58 L41.42,271.86 L42.20,271.16 L42.97,270.47 L43.73,269.81 L44.48,269.16 L45.21,268.53 L45.93,267.91 L46.65,267.31 L47.35,266.72 L48.04,266.15 L48.72,265.59 L49.39,265.04 L50.06,264.50 L50.71,263.97 L51.35,263.46 L51.98,262.95 L52.61,262.45 L53.22,261.95 L53.83,261.47 L54.42,260.99 L55.01,260.51 L55.59,260.04 L56.16,259.57 L56.73,259.10 L57.28,258.64 L57.83,258.18 L58.37,257.71 L58.90,257.25 L59.43,256.79 L59.95,256.32 L60.46,255.85 L60.97,255.38 L61.47,254.91 L61.96,254.42 L62.45,253.94 L62.93,253.44 L63.41,252.94 L63.88,252.43 L64.34,251.92 L64.80,251.39 L65.25,250.85 L65.70,250.30 L66.15,249.74 L66.59,249.17 L67.02,248.58 L67.46,247.98 L67.88,247.37 L68.31,246.74 L68.73,246.11 L69.14,245.46 L69.55,244.81 L69.96,244.14 L70.36,243.47 L70.76,242.79 L71.16,242.10 L71.55,241.41 L71.94,240.71 L72.33,240.00 L72.71,239.29 L73.09,238.57 L73.46,237.85 L73.84,237.13 L74.21,236.41 L74.57,235.68 L74.93,234.95 L75.29,234.23 L75.65,233.50 L76.01,232.77 L76.36,232.05 L76.71,231.32 L77.05,230.60 L77.40,229.88 L77.74,229.17 L78.08,228.46 L78.42,227.76 L78.75,227.06 L79.08,226.36 L79.41,225.68 L79.74,225.00 L80.07,224.33 L80.39,223.67 L80.71,223.02 L81.03,222.38 L81.35,221.75 L81.67,221.13 L81.99,220.52 L82.30,219.92 L82.61,219.32 L82.92,218.73 L83.23,218.13 L83.54,217.54 L83.84,216.94 L84.15,216.34 L84.45,215.74 L84.75,215.12 L85.05,214.49 L85.35,213.85 L85.64,213.20 L85.94,212.52 L86.23,211.83 L86.52,211.12 L86.81,210.38 L87.10,209.62 L87.39,208.83 L87.67,208.02 L87.95,207.19 L88.24,206.33 L88.51,205.45 L88.79,204.55 L89.06,203.63 L89.34,202.72 L89.61,201.86 L89.88,201.10 L90.16,200.47 L90.44,200.03 L90.72,199.81 L91.01,199.80 L91.30,199.74 L91.58,199.31 L91.85,198.49 L92.11,197.42 L92.36,196.24 L92.60,195.07 L92.84,194.06 L93.07,193.23 L93.29,192.54 L93.51,191.93 L93.73,191.35 L93.95,190.76 L94.18,190.09 L94.40,189.36 L94.63,188.59 L94.86,187.80 L95.09,187.01 L95.32,186.24 L95.55,185.52 L95.79,184.86 L96.02,184.29 L96.26,183.77 L96.50,183.26 L96.73,182.71 L96.97,182.09 L97.21,181.39 L97.46,180.63 L97.70,179.85 L97.94,179.09 L98.18,178.33 L98.43,177.58 L98.67,176.83 L98.91,176.09 L99.15,175.36 L99.40,174.63 L99.64,173.91 L99.88,173.19 L100.13,172.47 L100.37,171.76 L100.61,171.04 L100.85,170.33 L101.09,169.62 L101.33,168.91 L101.57,168.20 L101.81,167.49 L102.04,166.77 L102.28,166.05 L102.51,165.33 L102.75,164.61 L102.98,163.88 L103.21,163.15 L103.44,162.41 L103.67,161.67 L103.89,160.93 L104.12,160.19 L104.34,159.45 L104.56,158.71 L104.79,157.98 L105.01,157.26 L105.22,156.54 L105.44,155.84 L105.66,155.14 L105.87,154.47 L106.08,153.80 L106.30,153.15 L106.51,152.52 L106.72,151.92 L106.93,151.33 L107.14,150.76 L107.34,150.22 L107.55,149.69 L107.75,149.15 L107.96,148.56 L108.17,147.92 L108.38,147.19 L108.59,146.35 L108.80,145.39 L109.01,144.26 L109.23,143.02 L109.46,141.86 L109.68,141.01 L109.91,140.44 L110.15,139.99 L110.38,139.53 L110.62,138.91 L110.86,138.05 L111.10,137.12 L111.35,136.30 L111.59,135.77 L111.84,135.42 L112.08,135.04 L112.32,134.50 L112.54,133.81 L112.77,133.04 L112.99,132.21 L113.21,131.38 L113.43,130.56 L113.65,129.75 L113.87,128.94 L114.09,128.15 L114.32,127.36 L114.54,126.57 L114.76,125.80 L114.99,125.03 L115.21,124.27 L115.44,123.51 L115.66,122.77 L115.89,122.02 L116.12,121.28 L116.34,120.55 L116.57,119.83 L116.80,119.10 L117.03,118.39 L117.26,117.67 L117.49,116.97 L117.72,116.26 L117.95,115.56 L118.19,114.87 L118.42,114.17 L118.65,113.48 L118.89,112.80 L119.12,112.11 L119.36,111.43 L119.60,110.75 L119.83,110.08 L120.07,109.40 L120.31,108.73 L120.55,108.06 L120.79,107.39 L121.03,106.72 L121.27,106.05 L121.52,105.38 L121.76,104.71 L122.01,104.05 L122.25,103.38 L122.50,102.71 L122.74,102.05 L122.99,101.38 L123.24,100.71 L123.49,100.04 L123.74,99.37 L123.99,98.69 L124.25,98.02 L124.50,97.34 L124.75,96.66 L125.01,95.98 L125.27,95.29 L125.52,94.60 L125.78,93.91 L126.04,93.22 L126.30,92.52 L126.56,91.82 L126.83,91.12 L127.09,90.41 L127.35,89.69 L127.62,88.97 L127.89,88.25 L128.15,87.52 L128.42,86.79 L128.69,86.05 L128.97,85.30 L129.24,84.55 L129.51,83.79 L129.79,83.03 L130.06,82.26 L130.34,81.49 L130.63,80.72 L130.91,79.94 L131.20,79.17 L131.50,78.39 L131.80,77.62 L132.10,76.85 L132.41,76.09 L132.73,75.33 L133.05,74.57 L133.38,73.83 L133.72,73.09 L134.07,72.36 L134.42,71.64 L134.79,70.93 L135.16,70.24 L135.55,69.56 L135.94,68.89 L136.35,68.24 L136.76,67.61 L137.19,66.99 L137.64,66.39 L138.09,65.82 L138.56,65.26 L139.04,64.72 L139.54,64.21 L140.05,63.72 L140.58,63.26 L141.12,62.82 L141.68,62.41 L142.26,62.03 L142.85,61.68 L143.46,61.36 L144.09,61.07 L144.74,60.81 L145.40,60.59 L146.08,60.40 L146.78,60.24 L147.48,60.13 L148.18,60.05 L148.88,60.00 L149.59,60.00 L150.28,60.03 L150.97,60.11 L151.64,60.23 L152.30,60.39 L152.94,60.58 L153.57,60.82 L154.18,61.09 L154.78,61.40 L155.37,61.74 L155.95,62.11 L156.52,62.51 L157.07,62.94 L157.62,63.40 L158.15,63.88 L158.68,64.38 L159.19,64.90 L159.70,65.45 L160.20,66.01 L160.69,66.59 L161.18,67.18 L161.65,67.79 L162.13,68.41 L162.59,69.04 L163.06,69.68 L163.51,70.32 L163.97,70.97 L164.42,71.62 L164.86,72.28 L165.31,72.94 L165.75,73.59 L166.19,74.24 L166.63,74.89 L167.07,75.54 L167.50,76.18 L167.94,76.83 L168.37,77.47 L168.80,78.11 L169.23,78.75 L169.66,79.39 L170.09,80.02 L170.52,80.65 L170.95,81.28 L171.37,81.91 L171.80,82.54 L172.22,83.17 L172.64,83.79 L173.07,84.41 L173.49,85.04 L173.91,85.66 L174.34,86.28 L174.76,86.89 L175.18,87.51 L175.60,88.12 L176.02,88.74 L176.45,89.35 L176.87,89.96 L177.29,90.57 L177.71,91.18 L178.14,91.78 L178.56,92.39 L178.98,93.00 L179.41,93.60 L179.84,94.20 L180.26,94.80 L180.69,95.41 L181.12,96.01 L181.55,96.60 L181.98,97.20 L182.41,97.80 L182.84,98.40 L183.28,98.99 L183.71,99.59 L184.15,100.19 L184.59,100.78 L185.03,101.37 L185.47,101.97 L185.92,102.56 L186.37,103.15 L186.81,103.74 L187.26,104.33 L187.72,104.93 L188.17,105.52 L188.63,106.11 L189.08,106.70 L189.54,107.29 L190.00,107.88 L190.46,108.47 L190.92,109.06 L191.38,109.65 L191.84,110.24 L192.31,110.83 L192.77,111.42 L193.24,112.01 L193.70,112.60 L194.17,113.19 L194.63,113.78 L195.10,114.37 L195.57,114.96 L196.03,115.55 L196.50,116.15 L196.96,116.74 L197.43,117.33 L197.89,117.93 L198.36,118.52 L198.82,119.12 L199.29,119.71 L199.75,120.31 L200.21,120.91 L200.67,121.51 L201.13,122.11 L201.59,122.71 L202.05,123.31 L202.50,123.92 L202.95,124.52 L203.41,125.13 L203.86,125.73 L204.31,126.34 L204.75,126.95 L205.20,127.56 L205.64,128.17 L206.08,128.79 L206.52,129.40 L206.96,130.02 L207.39,130.63 L207.83,131.25 L208.26,131.87 L208.69,132.49 L209.12,133.11 L209.55,133.73 L209.97,134.35 L210.40,134.98 L210.82,135.60 L211.24,136.22 L211.66,136.84 L212.08,137.47 L212.50,138.09 L212.92,138.71 L213.33,139.33 L213.75,139.96 L214.17,140.58 L214.58,141.20 L214.99,141.82 L215.41,142.44 L215.82,143.06 L216.23,143.68 L216.65,144.30 L217.06,144.91 L217.47,145.53 L217.88,146.15 L218.29,146.76 L218.70,147.38 L219.11,147.99 L219.52,148.61 L219.93,149.23 L220.34,149.84 L220.74,150.46 L221.15,151.08 L221.55,151.71 L221.96,152.33 L222.36,152.96 L222.76,153.58 L223.16,154.21 L223.56,154.85 L223.96,155.48 L224.35,156.12 L224.75,156.76 L225.15,157.39 L225.54,158.03 L225.94,158.67 L226.34,159.31 L226.74,159.95 L227.14,160.59 L227.54,161.23 L227.94,161.87 L228.35,162.51 L228.75,163.15 L229.16,163.79 L229.57,164.42 L229.99,165.05 L230.40,165.68 L230.82,166.31 L231.25,166.94 L231.67,167.56 L232.10,168.18 L232.54,168.80 L232.98,169.41 L233.42,170.02 L233.87,170.62 L234.32,171.22 L234.78,171.82 L235.25,172.41 L235.72,173.00 L236.19,173.58 L236.68,174.15 L237.17,174.72 L237.66,175.28 L238.16,175.84 L238.67,176.39 L239.19,176.93 L239.71,177.47 L240.24,178.00 L240.78,178.52 L241.33,179.03 L241.88,179.54 L242.44,180.04 L243.00,180.52 L243.57,181.00 L244.15,181.47 L244.74,181.94 L245.34,182.39 L245.94,182.83 L246.55,183.26 L247.16,183.68 L247.79,184.09 L248.42,184.49 L249.06,184.88 L249.70,185.26 L250.35,185.63 L251.01,185.98 L251.68,186.33 L252.35,186.67 L253.02,187.00 L253.70,187.32 L254.38,187.64 L255.07,187.95 L255.76,188.25 L256.45,188.55 L257.15,188.84 L257.85,189.13 L258.55,189.42 L259.25,189.70 L259.95,189.97 L260.65,190.25 L261.35,190.52 L262.05,190.79 L262.75,191.06 L263.45,191.33 L264.16,191.60 L264.86,191.86 L265.56,192.12 L266.26,192.38 L266.96,192.64 L267.66,192.89 L268.37,193.14 L269.07,193.39 L269.77,193.64 L270.48,193.89 L271.18,194.13 L271.89,194.37 L272.59,194.61 L273.30,194.85 L274.01,195.08 L274.72,195.31 L275.43,195.54 L276.14,195.76 L276.85,195.98 L277.57,196.20 L278.28,196.42 L279.00,196.63 L279.72,196.84 L280.43,197.05 L281.16,197.25 L281.88,197.46 L282.60,197.65 L283.33,197.85 L284.06,198.04 L284.78,198.23 L285.52,198.42 L286.25,198.60 L286.98,198.78 L287.72,198.96 L288.45,199.14 L289.19,199.31 L289.92,199.49 L290.66,199.66 L291.40,199.84 L292.14,200.01 L292.87,200.19 L293.61,200.37 L294.35,200.54 L295.08,200.72 L295.81,200.90 L296.55,201.08 L297.28,201.27 L298.01,201.46 L298.74,201.65 L299.46,201.84 L300.19,202.04 L300.91,202.24 L301.63,202.45 L302.35,202.66 L303.06,202.87 L303.77,203.09 L304.48,203.32 L305.18,203.55 L305.88,203.79 L306.58,204.03 L307.28,204.28 L307.96,204.54 L308.65,204.81 L309.33,205.08 L310.01,205.37 L310.68,205.66 L311.35,205.95 L312.01,206.26 L312.68,206.57 L313.34,206.89 L313.99,207.21 L314.65,207.54 L315.30,207.88 L315.95,208.23 L316.60,208.58 L317.25,208.94 L317.89,209.30 L318.54,209.67 L319.18,210.05 L319.83,210.43 L320.47,210.82 L321.12,211.21 L321.76,211.61 L322.41,212.01 L323.05,212.42 L323.70,212.84 L324.35,213.25 L325.00,213.67 L325.64,214.09 L326.29,214.52 L326.94,214.94 L327.59,215.37 L328.24,215.79 L328.89,216.22 L329.54,216.64 L330.19,217.06 L330.85,217.48 L331.50,217.90 L332.15,218.31 L332.81,218.72 L333.46,219.12 L334.11,219.52 L334.77,219.91 L335.42,220.30 L336.08,220.68 L336.73,221.05 L337.39,221.42 L338.05,221.78 L338.70,222.14 L339.36,222.49 L340.02,222.84 L340.68,223.18 L341.34,223.52 L341.99,223.85 L342.65,224.19 L343.31,224.52 L343.97,224.85 L344.63,225.17 L345.29,225.50 L345.95,225.82 L346.61,226.14 L347.26,226.46 L347.92,226.79 L348.58,227.11 L349.24,227.43 L349.90,227.75 L350.56,228.08 L351.22,228.41 L351.88,228.73 L352.53,229.07 L353.19,229.40 L353.85,229.74 L354.51,230.08 L355.17,230.42 L355.82,230.77 L356.48,231.12 L357.14,231.47 L357.79,231.83 L358.45,232.19 L359.10,232.55 L359.76,232.91 L360.41,233.28 L361.06,233.65 L361.72,234.03 L362.37,234.41 L363.02,234.79 L363.67,235.17 L364.32,235.55 L364.97,235.94 L365.62,236.33 L366.26,236.72 L366.91,237.12 L367.56,237.52 L368.20,237.92 L368.84,238.32 L369.49,238.72 L370.13,239.13 L370.77,239.54 L371.41,239.95 L372.04,240.36 L372.68,240.77 L373.32,241.19 L373.95,241.61 L374.58,242.03 L375.21,242.45 L375.84,242.87 L376.47,243.30 L377.10,243.72 L377.72,244.15 L378.35,244.58 L378.97,245.01 L379.59,245.45 L380.21,245.88 L380.83,246.31 L381.44,246.75 L382.06,247.19 L382.67,247.63 L383.28,248.07 L383.89,248.51 L384.49,248.95 L385.10,249.39 L385.70,249.83 L386.30,250.28 L386.90,250.72 L387.50,251.16 L388.10,251.61 L388.70,252.05 L389.29,252.50 L389.89,252.94 L390.49,253.38 L391.08,253.82 L391.68,254.26 L392.28,254.70 L392.87,255.14 L393.47,255.58 L394.07,256.01 L394.67,256.45 L395.27,256.88 L395.88,257.31 L396.48,257.74 L397.09,258.16 L397.70,258.58 L398.31,259.00 L398.92,259.42 L399.54,259.83 L400.16,260.24 L400.78,260.65 L401.41,261.05 L402.04,261.45 L402.67,261.85 L403.30,262.24 L403.94,262.62 L404.59,263.01 L405.24,263.39 L405.89,263.76 L406.55,264.13 L407.21,264.49 L407.88,264.85 L408.55,265.20 L409.23,265.55 L409.91,265.89 L410.60,266.23 L411.29,266.56 L412.00,266.88 L412.70,267.20 L413.42,267.51 L414.14,267.81 L414.87,268.11 L415.60,268.40 L416.34,268.68 L417.09,268.96 L417.85,269.23 L418.61,269.49 L419.39,269.74 L420.17,269.99" stroke="#ff0000" stroke-dasharray="5.0 5.395" stroke-dashoffset="7.60"/>
</g>
<g fill="none" stroke="#000" stroke-width="0.75">
<rect x="51.0" y="51.2" width="358.5" height="228.10000000000002"/>
<path d="M64.4,279.3 V285.6"/>
<path d="M130.8,279.3 V285.6"/>
<path d="M197.2,279.3 V285.6"/>
<path d="M263.6,279.3 V285.6"/>
<path d="M330.0,279.3 V285.6"/>
<path d="M396.4,279.3 V285.6"/>
<path d="M51.0,270.7 H44.7"/>
<path d="M51.0,220.1 H44.7"/>
<path d="M51.0,169.6 H44.7"/>
<path d="M51.0,119.1 H44.7"/>
<path d="M51.0,68.5 H44.7"/>
</g>
<g font-family="'Liberation Sans', Arial, Helvetica, sans-serif" fill="#000">
<g font-size="12.6" font-weight="bold" text-anchor="middle">
<text x="64.4" y="301.9">−1.0</text>
<text x="130.8" y="301.9">−0.5</text>
<text x="197.2" y="301.9">0.0</text>
<text x="263.6" y="301.9">0.5</text>
<text x="330.0" y="301.9">1.0</text>
<text x="396.4" y="301.9">1.5</text>
<text transform="translate(35.6,270.7) rotate(-90)">0.0</text>
<text transform="translate(35.6,220.1) rotate(-90)">0.2</text>
<text transform="translate(35.6,169.6) rotate(-90)">0.4</text>
<text transform="translate(35.6,119.1) rotate(-90)">0.6</text>
<text transform="translate(35.6,68.5) rotate(-90)">0.8</text>
</g>
<g font-size="15.4" text-anchor="middle">
<text x="230.3" y="326.8">Relative difference</text>
<text transform="translate(11.0,165.2) rotate(-90)">Density</text>
</g>
<g font-size="10.45">
<path d="M249.2,63.75 H268.8" stroke="#0000ff" stroke-width="1.55" fill="none"/>
<text x="277.7" y="67.70">Ridge shrinkage, t</text>
<path d="M249.2,76.20 H268.8" stroke="#ffa500" stroke-width="1.55" fill="none"/>
<text x="277.7" y="80.15">Ridge shrinkage, normal</text>
<path d="M249.2,88.65 H268.8" stroke="#000" stroke-width="1.55" fill="none" stroke-dasharray="5.2 5.2"/>
<text x="277.7" y="92.60">MP ridge shrinkage, t</text>
<path d="M249.2,101.10 H268.8" stroke="#ff0000" stroke-width="1.55" fill="none" stroke-dasharray="5.2 5.2"/>
<text x="277.7" y="105.05">MP ridge shrinkage, normal</text>
</g></g>
</svg>
</body></html>
